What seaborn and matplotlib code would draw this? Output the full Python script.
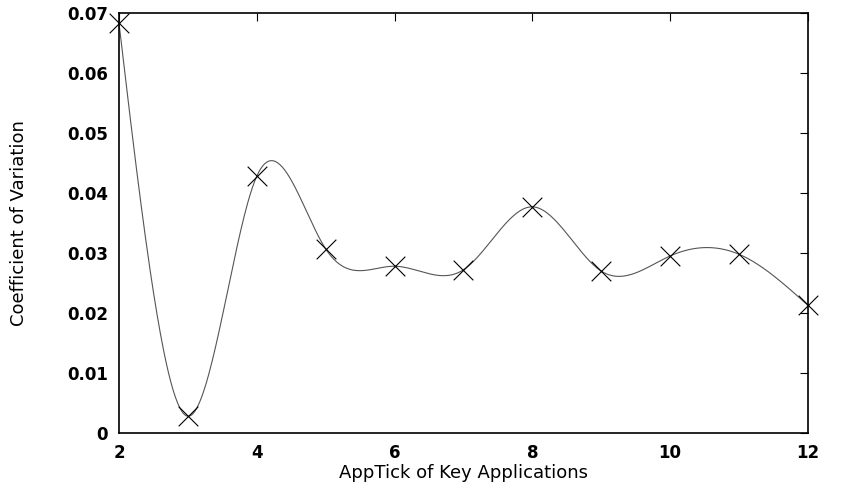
import numpy as np
import matplotlib
matplotlib.use("Agg")
import matplotlib.pyplot as plt
import seaborn as sns
import pandas as pd

apptick = [2, 3, 4, 5, 6, 7, 8, 9, 10, 11, 12]
cov = [0.0683, 0.0028, 0.0428, 0.0307, 0.0278, 0.0272, 0.0377, 0.0270, 0.0295, 0.0298, 0.0213]


def natural_spline(x, y, n=600):
    x = np.asarray(x, float); y = np.asarray(y, float)
    m = len(x); h = np.diff(x)
    A = np.zeros((m, m)); b = np.zeros(m)
    A[0, 0] = A[-1, -1] = 1
    for i in range(1, m - 1):
        A[i, i - 1] = h[i - 1]; A[i, i] = 2 * (h[i - 1] + h[i]); A[i, i + 1] = h[i]
        b[i] = 6 * ((y[i + 1] - y[i]) / h[i] - (y[i] - y[i - 1]) / h[i - 1])
    M = np.linalg.solve(A, b)
    xs = np.linspace(x[0], x[-1], n)
    idx = np.clip(np.searchsorted(x, xs) - 1, 0, m - 2)
    x0, x1 = x[idx], x[idx + 1]; hh = x1 - x0
    ys = (M[idx] * (x1 - xs) ** 3 / (6 * hh) + M[idx + 1] * (xs - x0) ** 3 / (6 * hh)
          + (y[idx] / hh - M[idx] * hh / 6) * (x1 - xs) + (y[idx + 1] / hh - M[idx + 1] * hh / 6) * (xs - x0))
    return xs, ys


sns.set_theme(style="white")
plt.rcParams['font.family'] = ['DejaVu Sans']

fig = plt.figure(figsize=(8.53, 5.01), dpi=100)
ax = fig.add_axes([0.1395, 0.1357, 0.8075, 0.8383])

xs, ys = natural_spline(apptick, cov)
sns.lineplot(x=xs, y=ys, ax=ax, color="#555555", linewidth=0.8, sort=False)
sns.scatterplot(x=apptick, y=cov, ax=ax, marker="x", s=200, color="black", linewidth=0.8, zorder=5)
for coll in ax.collections:
    coll.set_clip_on(False)

ax.set_xlim(2, 12)
ax.set_ylim(0, 0.07)
ax.set_xticks([2, 4, 6, 8, 10, 12])
ax.set_yticks([0, 0.01, 0.02, 0.03, 0.04, 0.05, 0.06, 0.07])
ax.set_yticklabels(["0", "0.01", "0.02", "0.03", "0.04", "0.05", "0.06", "0.07"])
ax.tick_params(direction="in", length=6, width=0.8, top=True, right=True, labelsize=12, pad=8, colors="black")
for lab in ax.get_xticklabels() + ax.get_yticklabels():
    lab.set_fontweight("bold")
for s in ax.spines.values():
    s.set_color("black"); s.set_linewidth(1.2)
ax.set_xlabel("AppTick of Key Applications", fontsize=13, labelpad=1, color="black")
ax.set_ylabel("Coefficient of Variation", fontsize=13, labelpad=28, color="black")
ax.grid(False)

fig.savefig("out.png", dpi=100)
